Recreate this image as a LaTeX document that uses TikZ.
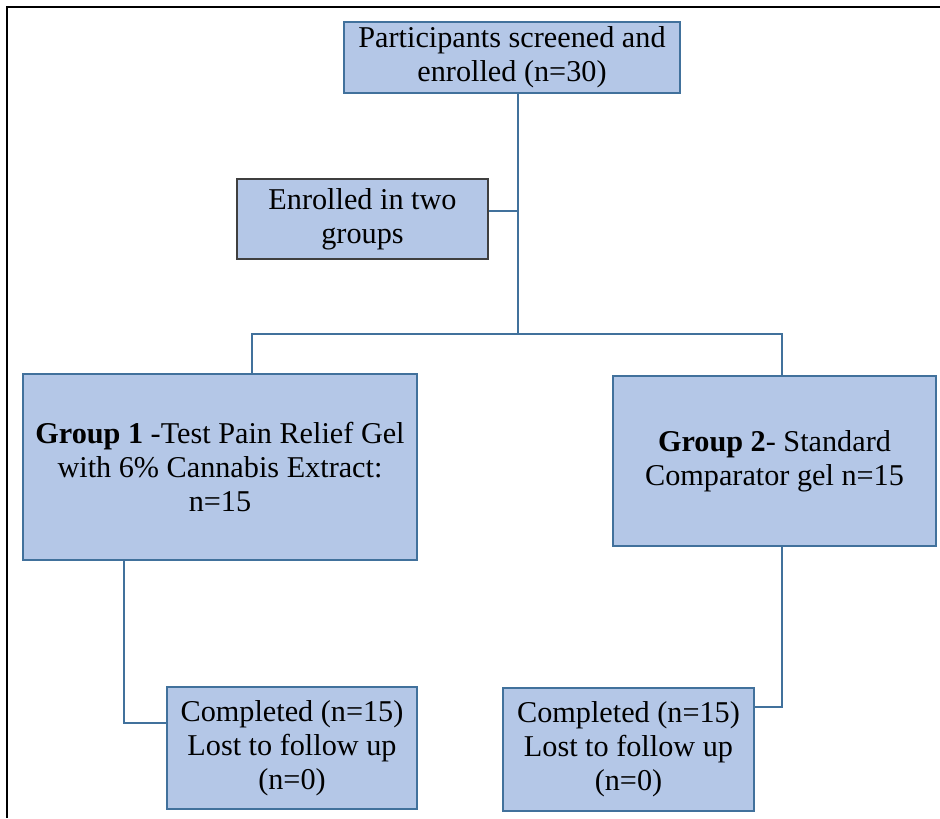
\documentclass[tikz,border=0pt]{standalone}
\usepackage{fontspec}
\setmainfont{Liberation Serif}
\usepackage{tikz}
\usetikzlibrary{positioning}

\definecolor{boxfill}{HTML}{B4C7E7}
\definecolor{boxline}{HTML}{41719C}
\definecolor{darkline}{HTML}{3F3F3F}

\begin{document}
\begin{tikzpicture}[node distance=3cm]

    % Define styles for the nodes
    \tikzstyle{box} = [
        rectangle, text centered, draw=boxline, fill=boxfill, line width=0.8pt,
        align=center, inner sep=0pt,
        font=\fontsize{17.2}{19.4}\selectfont
    ]
    \tikzstyle{darkbox} = [box, draw=darkline]
    \tikzstyle{line} = [draw=boxline, line width=0.8pt]

    \useasboundingbox (0,0) rectangle (18.8,-16.36);
    \draw [line width=1.1pt] (18.8,-0.14) -- (0.14,-0.14) -- (0.14,-16.36);

    % Nodes
    \node (start) [box, minimum width=6.72cm, minimum height=1.42cm] at (10.24,-1.15)
        {Participants screened and\\ enrolled (n=30)};
    \node (enrol) [darkbox, below of=start, xshift=-2.99cm, yshift=-0.23cm,
        minimum width=5.02cm, minimum height=1.6cm] {Enrolled in two\\ groups};
    \node (groupA) [box, below of=enrol, xshift=-2.85cm, yshift=-1.96cm,
        minimum width=7.88cm, minimum height=3.72cm]
        {\textbf{Group 1} -Test Pain Relief Gel\\ with 6\% Cannabis Extract:\\ n=15};
    \node (groupB) [box, below of=start, xshift=5.25cm, yshift=-5.07cm,
        minimum width=6.46cm, minimum height=3.4cm]
        {\textbf{Group 2}- Standard\\ Comparator gel n=15};
    \node (doneA) [box, below of=groupA, xshift=1.44cm, yshift=-2.62cm,
        minimum width=5cm, minimum height=2.44cm]
        {Completed (n=15)\\ Lost to follow up\\ (n=0)};
    \node (doneB) [box, below of=groupB, xshift=-2.92cm, yshift=-2.77cm,
        minimum width=5.02cm, minimum height=2.46cm]
        {Completed (n=15)\\ Lost to follow up\\ (n=0)};

    % Lines
    \coordinate (split) at (10.36,-6.68);
    \draw [line] (start.south -| split) -- (split);
    \draw [line] ([yshift=0.16cm]enrol.east) -- ([yshift=0.16cm]enrol.east -| split);
    \draw [line] ([xshift=0.64cm]groupA.north) |- (split) -| ([xshift=0.15cm]groupB.north);
    \draw [line] ([xshift=-1.92cm]groupA.south) |- ([yshift=0.5cm]doneA.west);
    \draw [line] ([xshift=0.15cm]groupB.south) |- ([yshift=0.85cm]doneB.east);

\end{tikzpicture}
\end{document}
